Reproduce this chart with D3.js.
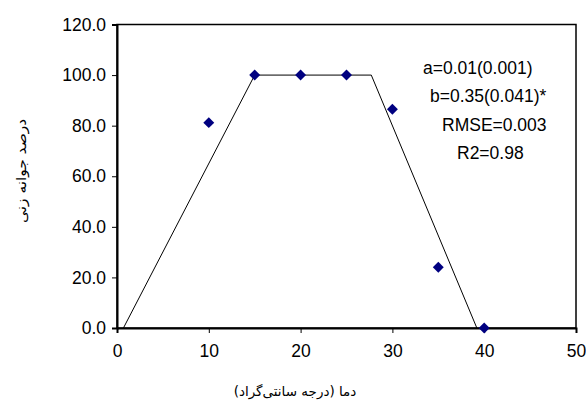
<!DOCTYPE html>
<meta charset="utf-8">
<style>
body {
  margin: 0;
  background: #ffffff;
}
svg {
  display: block;
}
text {
  font-family: 'Liberation Sans', Arial, sans-serif;
  fill: #000000;
}
text.label {
  font-family: 'DejaVu Sans', 'Noto Sans', sans-serif;
  font-size: 13.5px;
}
text.stat {
  font-size: 17.5px;
}
</style>
<body>
<svg width="586" height="401"></svg>
<script src="https://d3js.org/d3.v7.min.js"></script>
<script>

    // observed germination (%) at each temperature
    const temps = [10, 15, 20, 25, 30, 35, 40];
    const germ = [81.2, 100, 100, 100, 86.5, 24.0, 0];

    // fitted trapezoid model (corner points)
    const fitTemps = [0.7, 15, 27.7, 39.2];
    const fitGerm = [0, 100, 100, 0];

    const xTicks = [0, 10, 20, 30, 40, 50];
    const yTicks = [0, 20, 40, 60, 80, 100, 120];

    const stats = ['a=0.01(0.001)', 'b=0.35(0.041)*', 'RMSE=0.003', 'R2=0.98'];

    const svg = d3.select('svg');

    const plotL = 117, plotR = 576, plotT = 24.5, plotB = 328;

    const xScale = d3.scaleLinear()
      .domain([0, 50])
      .range([plotL, plotR]);

    const yScale = d3.scaleLinear()
      .domain([0, 120])
      .range([plotB, plotT]);

    // plot frame
    svg.append('rect')
      .attr('x', plotL)
      .attr('y', plotT)
      .attr('width', plotR - plotL)
      .attr('height', plotB - plotT)
      .attr('fill', 'none')
      .attr('stroke', '#000')
      .attr('stroke-width', 1.5);

    const xAxis = svg.append('g')
      .attr('transform', `translate(0, ${plotB})`)
      .call(d3.axisBottom(xScale)
        .tickValues(xTicks)
        .tickSize(5)
        .tickPadding(12)
        .tickFormat(d3.format('d')));

    const yAxis = svg.append('g')
      .attr('transform', `translate(${plotL}, 0)`)
      .call(d3.axisLeft(yScale)
        .tickValues(yTicks)
        .tickSize(5)
        .tickPadding(6)
        .tickFormat(d3.format('.1f')));

    [xAxis, yAxis].forEach(g => {
      g.select('.domain').attr('stroke', '#000').attr('stroke-width', 2);
      g.selectAll('.tick line').attr('stroke', '#000').attr('stroke-width', 1);
      g.selectAll('.tick text')
        .attr('fill', '#000')
        .style('font-family', "'Liberation Sans', Arial, sans-serif")
        .style('font-size', '17.5px');
    });

    // model line
    const fit = fitTemps.map((t, i) => [t, fitGerm[i]]);
    svg.append('path')
      .datum(fit)
      .attr('fill', 'none')
      .attr('stroke', '#000')
      .attr('stroke-width', 1)
      .attr('d', d3.line()
        .x(d => xScale(d[0]))
        .y(d => yScale(d[1])));

    // observed points
    const diamond = d3.symbol().type(d3.symbolSquare).size(60);
    svg.selectAll('.pt')
      .data(temps)
      .enter()
      .append('path')
      .attr('class', 'pt')
      .attr('d', diamond)
      .attr('fill', '#000080')
      .attr('transform', (d, i) => `translate(${xScale(d)}, ${yScale(germ[i])}) rotate(45)`);

    // fit statistics
    const statX = [423, 430, 442, 457];
    svg.selectAll('.stat')
      .data(stats)
      .enter()
      .append('text')
      .attr('class', 'stat')
      .attr('x', (d, i) => statX[i])
      .attr('y', (d, i) => 73.5 + i * 28.5)
      .text(d => d);

    svg.append('text')
      .attr('class', 'label')
      .attr('transform', 'translate(26, 171) rotate(-90)')
      .attr('text-anchor', 'middle')
      .attr('direction', 'rtl')
      .attr('textLength', 104)
      .attr('lengthAdjust', 'spacingAndGlyphs')
      .text('درصد جوانه زنی');

    svg.append('text')
      .attr('class', 'label')
      .attr('x', 295)
      .attr('y', 396)
      .attr('text-anchor', 'middle')
      .attr('direction', 'rtl')
      .text('دما (درجه سانتی‌گراد)');

</script>
</body>
